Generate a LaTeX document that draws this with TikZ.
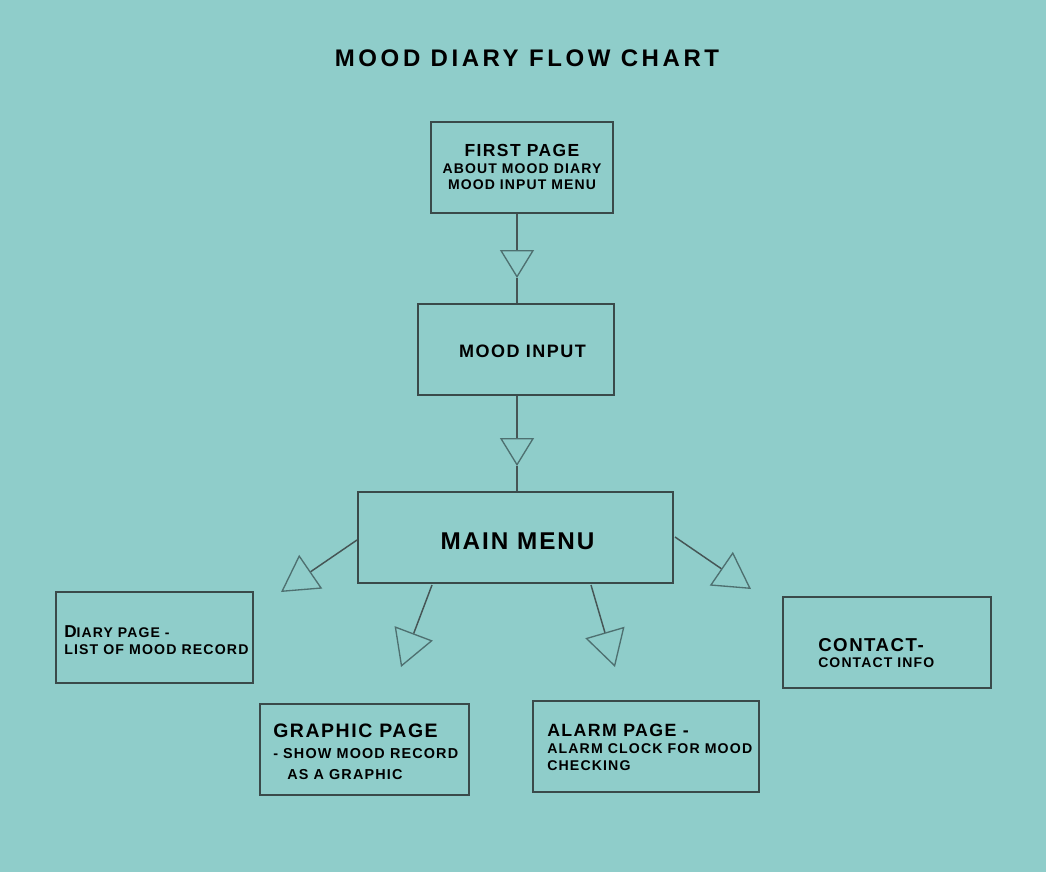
\documentclass[tikz,border=0pt]{standalone}
\usepackage{fontspec}
\setmainfont{Liberation Sans}[LetterSpace=8]
\newfontfamily\titlefont{Liberation Sans}[LetterSpace=15]
\usetikzlibrary{arrows.meta,fit}
\definecolor{bgc}{RGB}{143,205,202}
\definecolor{boxc}{RGB}{58,74,74}
\definecolor{linec}{RGB}{70,85,85}
\definecolor{tric}{RGB}{78,112,112}
\newcommand{\fpx}[1]{\fontsize{#1pt}{#1pt}\selectfont}
\begin{document}
\begin{tikzpicture}[x=0.75pt,y=-0.75pt,
  box/.style={draw=boxc,line width=1.5pt,inner sep=0pt},
  lbl/.style={inner sep=0pt,anchor=base west,text=black,font=\bfseries},
  clbl/.style={inner sep=0pt,anchor=base,text=black,font=\bfseries},
  conn/.style={draw=linec,line width=1.1pt},
  vtip/.style={conn,-{Triangle[open,length=21pt,width=25.5pt,color=tric,line width=1pt]}},
  dtip/.style={conn,-{Triangle[open,length=27pt,width=30.5pt,color=tric,line width=1pt]}}]
\fill[bgc] (0,0) rectangle (1046,872);
\useasboundingbox (0,0) rectangle (1046,872);
% title
\node[clbl,font=\titlefont\bfseries\fpx{18}] (title) at (527,66) {MOOD DIARY FLOW CHART};
% boxes
\node[box,fit={(431,122) (613,213)}] (first) {};
\node[box,fit={(418,304) (614,395)}] (mood) {};
\node[box,fit={(358,492) (673,583)}] (main) {};
\node[box,fit={(56,592) (253,683)}] (diary) {};
\node[box,fit={(260,704) (469,795)}] (graphic) {};
\node[box,fit={(533,701) (759,792)}] (alarm) {};
\node[box,fit={(783,597) (991,688)}] (contact) {};
% texts
\node[clbl,font=\bfseries\fpx{13.1}] (t1a) at (522,156) {FIRST PAGE};
\node[clbl,font=\bfseries\fpx{10.5}] (t1b) at (522,173) {ABOUT MOOD DIARY};
\node[clbl,font=\bfseries\fpx{10.5}] (t1c) at (522,189) {MOOD INPUT MENU};
\node[clbl,font=\bfseries\fpx{13.5}] (t2) at (522.5,357) {MOOD INPUT};
\node[clbl,font=\bfseries\fpx{18.2}] (t3) at (517.5,549) {MAIN MENU};
\node[lbl] (t4a) at (64,637) {\fpx{12.9}D\fpx{10.5}IARY PAGE -};
\node[lbl,font=\bfseries\fpx{10.6}] (t4b) at (64,654) {LIST OF MOOD RECORD};
\node[lbl,font=\bfseries\fpx{14.6}] (t5a) at (273,737) {GRAPHIC PAGE};
\node[lbl,font=\bfseries\fpx{10.8}] (t5b) at (273,758) {- SHOW MOOD RECORD};
\node[lbl,font=\bfseries\fpx{10.8}] (t5c) at (287,779) {AS A GRAPHIC};
\node[lbl,font=\bfseries\fpx{13.3}] (t6a) at (547,736) {ALARM PAGE -};
\node[lbl,font=\bfseries\fpx{10.6}] (t6b) at (547,753) {ALARM CLOCK FOR MOOD};
\node[lbl,font=\bfseries\fpx{10.6}] (t6c) at (547,770) {CHECKING};
\node[lbl,font=\bfseries\fpx{14}] (t7a) at (818,651) {CONTACT-};
\node[lbl,font=\bfseries\fpx{10.5}] (t7b) at (818,667) {CONTACT INFO};
% connector points
\coordinate (a1) at (517,278);
\coordinate (a2) at (517,466);
\coordinate (s1) at (357,540);
\coordinate (e1) at (281,592);
\coordinate (s2) at (432,585);
\coordinate (e2) at (401,667);
\coordinate (s3) at (591,585);
\coordinate (e3) at (615,667);
\coordinate (s4) at (675,537);
\coordinate (e4) at (751,589);
% connectors
\draw[vtip] (a1 |- first.south) -- (a1);
\draw[conn] (a1) -- (a1 |- mood.north);
\draw[vtip] (a2 |- mood.south) -- (a2);
\draw[conn] (a2) -- (a2 |- main.north);
\draw[dtip] (s1) -- (e1);
\draw[dtip] (s2) -- (e2);
\draw[dtip] (s3) -- (e3);
\draw[dtip] (s4) -- (e4);
\end{tikzpicture}
\end{document}
